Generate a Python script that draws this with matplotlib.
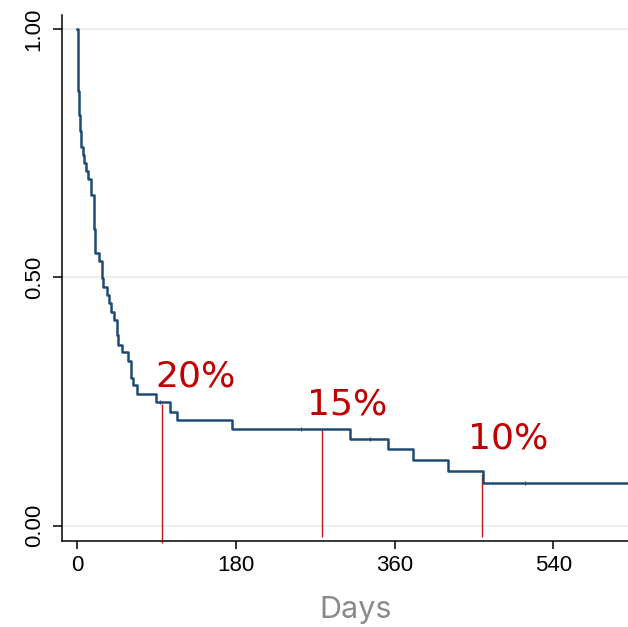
import matplotlib
matplotlib.use("Agg")
from matplotlib import pyplot as plt

# Kaplan-Meier style step curve
days = [0, 1, 2, 3, 4, 5, 7, 8, 10, 13, 16, 20, 21, 25, 28, 30, 34, 36, 39, 42,
        45, 47, 51, 58, 61, 64, 68, 90, 106, 113, 176, 309, 352, 381, 420, 460, 640]
surv = [1.0, 0.875, 0.859, 0.827, 0.795, 0.763, 0.746, 0.730, 0.714, 0.698, 0.665,
        0.598, 0.549, 0.532, 0.499, 0.481, 0.465, 0.448, 0.431, 0.414, 0.383, 0.364,
        0.350, 0.332, 0.298, 0.284, 0.265, 0.249, 0.230, 0.213, 0.195, 0.175, 0.154,
        0.132, 0.110, 0.087, 0.087]

censor_days = [94, 254, 332, 508]
censor_surv = [0.249, 0.195, 0.175, 0.087]

# red markers
mark_days = [97, 278, 459]
mark_top = [0.245, 0.195, 0.105]
mark_bottom = [-0.035, -0.022, -0.022]
mark_labels = ["20%", "15%", "10%"]
label_x = [134, 306, 489]
label_y = [0.280, 0.223, 0.156]

yticks = [0, 0.5, 1.0]
ytick_labels = ["0.00", "0.50", "1.00"]
xticks = [0, 180, 360, 540]

blue = "#1f4a73"
red = "#c00000"

fig = plt.figure(figsize=(6.28, 6.27), dpi=100)
ax = fig.add_axes([62 / 628, 1 - 540.7 / 627, 1 - 62 / 628, (540.7 - 15) / 627])

for y in yticks:
    ax.axhline(y, color="#e8eff1", lw=1.3, zorder=0)

ax.step(days, surv, where="post", color=blue, lw=1.8, zorder=3)
ax.plot(censor_days, censor_surv, ls="none", marker="|", ms=3, mew=0.8, color=blue, zorder=3)

for x, y0, y1 in zip(mark_days, mark_bottom, mark_top):
    ax.vlines(x, y0, y1, color="#cc1111", lw=1.0, zorder=2, clip_on=False)

for t, x, y in zip(mark_labels, label_x, label_y):
    ax.text(x, y, t, color=red, fontsize=26, ha="center", va="baseline",
            family="DejaVu Sans", zorder=4)

ax.set_xlim(-16.8, 624.4)
ax.set_ylim(-0.03, 1.028)

ax.spines["top"].set_visible(False)
ax.spines["right"].set_visible(False)
ax.spines["left"].set_linewidth(1.1)
ax.spines["bottom"].set_linewidth(1.1)

ax.set_xticks(xticks)
ax.set_xticklabels([str(v) for v in xticks], family="Liberation Sans", fontsize=16)
ax.set_yticks(yticks)
ax.set_yticklabels(ytick_labels, family="Liberation Sans", fontsize=16, rotation=90)
for lab in ax.get_yticklabels():
    lab.set_va("center")
ax.tick_params(axis="x", length=5.5, width=1.1, pad=5)
ax.tick_params(axis="y", length=6.5, width=1.1, pad=6)

ax.set_xlabel("Days", family="Inter", fontsize=22, color="#8a8a8a")
ax.xaxis.set_label_coords(0.518, -0.105)

fig.savefig("out.png", dpi=100)
